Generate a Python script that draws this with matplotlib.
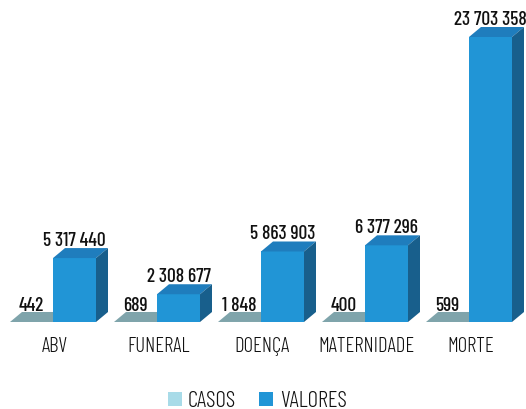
import matplotlib
matplotlib.use("Agg")
import matplotlib.pyplot as plt
from matplotlib.patches import Polygon, Rectangle

categories = ["ABV", "FUNERAL", "DOENÇA", "MATERNIDADE", "MORTE"]
casos = [442, 689, 1848, 400, 599]
valores = [5317440, 2308677, 5863903, 6377296, 23703358]

FONT = ["Barlow Condensed", "DejaVu Sans"]

# colours per series: front / top / side faces
CASOS_FACES = ("#a8dbe8", "#7fa4ab", "#6b8f96")
VALORES_FACES = ("#2195d6", "#1f7dbd", "#185f8c")


def fmt(v):
    return f"{v:,}".replace(",", " ")


W, H = 526, 410
fig = plt.figure(figsize=(W / 100, H / 100), dpi=100)
ax = fig.add_axes([0, 0, 1, 1])

# one category unit = 104 px, baseline 87 px above the bottom edge
px_x = 1 / 104
px_y = 23703358 / 285
ax.set_xlim(-53 * px_x, (W - 53) * px_x)
ax.set_ylim(-87 * px_y, (H - 87) * px_y)
ax.axis("off")

width = 43 * px_x
dx, dy = 12 * px_x, 10 * px_y


def box(x0, h, faces, z):
    front, top, side = faces
    x1 = x0 + width
    ax.add_patch(Polygon([(x0, 0), (x1, 0), (x1, h), (x0, h)],
                         closed=True, fc=front, ec="none", zorder=z))
    ax.add_patch(Polygon([(x0, h), (x1, h), (x1 + dx, h + dy), (x0 + dx, h + dy)],
                         closed=True, fc=top, ec="none", zorder=z))
    ax.add_patch(Polygon([(x1, 0), (x1 + dx, dy), (x1 + dx, h + dy), (x1, h)],
                         closed=True, fc=side, ec="none", zorder=z))


for i, (cat, c, v) in enumerate(zip(categories, casos, valores)):
    box(i - width, c, CASOS_FACES, 2)
    box(i, v, VALORES_FACES, 3)
    ax.text(i - width / 2, c + dy + 2 * px_y, fmt(c), ha="center", va="baseline",
            family=FONT, weight=500, fontsize=14, color="#111111", zorder=5)
    ax.text(i + width / 2, v + dy + 3 * px_y, fmt(v), ha="center", va="baseline",
            family=FONT, weight=500, fontsize=14, color="#111111", zorder=5)
    ax.text(i + 1.5 * px_x, -29 * px_y, cat, ha="center", va="baseline",
            family=FONT, weight=300, fontsize=15, color="#111111")

# legend row under the categories
for (x_sq, x_txt), label, color in (((168, 188), "CASOS", CASOS_FACES[0]),
                                    ((259, 280), "VALORES", VALORES_FACES[0])):
    fig.patches.append(Rectangle((x_sq / W, 3 / H), 14 / W, 14 / H,
                                 transform=fig.transFigure, fc=color, ec="none"))
    fig.text(x_txt / W, 3 / H, label, ha="left", va="baseline",
             family=FONT, weight=300, fontsize=16.5, color="#111111")

fig.savefig("out.png", dpi=100)
plt.close(fig)
